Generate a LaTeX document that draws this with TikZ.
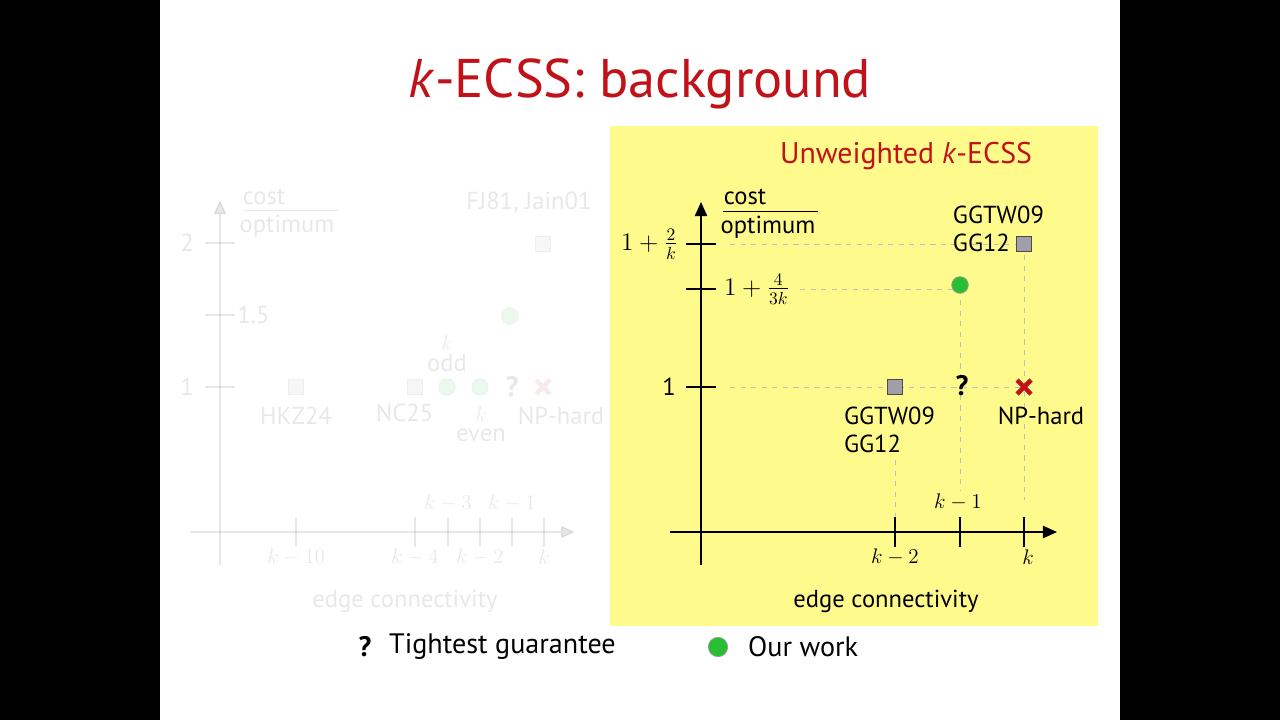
\documentclass[tikz,border=0pt]{standalone}
\usepackage{amsmath}
\usepackage{fontspec}
\setmainfont{PT Sans}
\usepackage{tikz}
\usetikzlibrary{arrows.meta,positioning,calc}
\definecolor{slidered}{RGB}{192,18,24}
\definecolor{boxyellow}{RGB}{255,250,140}
\definecolor{ourgreen}{RGB}{40,190,50}
\definecolor{sqgray}{RGB}{160,158,168}
\tikzset{
  axis/.style={thick,-{Triangle[length=8pt,width=7pt]}},
  tick/.style={thick},
  guide/.style={gray!50,dashed,thin},
  sqmark/.style={draw=black!70,fill=sqgray,minimum size=8.5pt,inner sep=0pt,thin},
  dotmark/.style={circle,draw=black!40,fill=ourgreen,minimum size=9.5pt,inner sep=0pt,thin},
  lbl/.style={font=\fontsize{14}{16}\selectfont,align=left,inner sep=1pt},
  mlbl/.style={font=\fontsize{12}{14}\selectfont,inner sep=1pt},
  qlbl/.style={font=\bfseries\fontsize{16}{18}\selectfont},
  faded/.style={opacity=0.09}
}
\newcommand{\hardmark}[1]{\draw[slidered,line width=2.6pt] ($(#1)+(-7,-7)$) -- ($(#1)+(7,7)$) ($(#1)+(-7,7)$) -- ($(#1)+(7,-7)$);}
\begin{document}
\begin{tikzpicture}[x=0.02cm,y=-0.02cm]
\useasboundingbox (0,0) rectangle (1280,720);
\fill[black] (0,0) rectangle (1280,720);
\fill[white] (160,0) rectangle (1120,720);

% title
\node[text=slidered,font=\fontsize{31}{36}\selectfont] (title) at (640,84) {\textit{k}-ECSS: background};

% faded left chart
\begin{scope}[faded]
  \draw[axis] (220,565) -- (220,200);
  \draw[axis] (190,532) -- (575,532);
  \foreach \y/\t in {243/2,387/1} {
    \draw[tick] (205,\y) -- (235,\y);
    \node[lbl,anchor=east] at (196,\y) {\t};
  }
  \draw[tick] (205,315) -- (235,315) node[lbl,anchor=west] {1.5};
  \foreach \x/\t in {296/{k-10},415/{k-4},480/{k-2},544/{k}} {
    \draw[tick] (\x,517) -- (\x,547);
    \node[mlbl] at (\x,557) {$\t$};
  }
  \foreach \x/\t in {448/{k-3},512/{k-1}} {
    \draw[tick] (\x,517) -- (\x,547);
    \node[mlbl] at (\x,503) {$\t$};
  }
  \node[lbl] (lcost) at (264,197) {cost};
  \draw (244,210) -- (338,210);
  \node[lbl] (lopt) at (287,226) {optimum};
  \node[sqmark] (lsqa) at (296,387) {};
  \node[lbl,below=6pt of lsqa] {HKZ24};
  \node[sqmark] (lsqb) at (415,387) {};
  \node[lbl,below=4pt of lsqb,xshift=-6pt] {NC25};
  \node[sqmark] (lsqc) at (543,244) {};
  \node[lbl,above=12pt of lsqc,xshift=-8pt] {FJ81, Jain01};
  \node[dotmark] (ldota) at (447,387) {};
  \node[dotmark] (ldotb) at (480,387) {};
  \node[dotmark] (ldotc) at (510,316) {};
  \node[mlbl,text=blue] (lkodd) at (447,343) {$k$};
  \node[lbl] (lodd) at (447,363) {odd};
  \node[mlbl,text=blue] (lkeven) at (481,414) {$k$};
  \node[lbl] (leven) at (481,435) {even};
  \node[qlbl] (lq) at (512,387) {?};
  \coordinate (lx) at (543,387);
  \hardmark{lx}
  \node[lbl] at (561,416) {NP-hard};
  \node[lbl] (lxl) at (405,601) {edge connectivity};
\end{scope}

% yellow box
\fill[boxyellow] (610,126) rectangle (1098,626);
\node[text=slidered,font=\fontsize{17}{20}\selectfont] (boxtitle) at (906,156) {Unweighted \textit{k}-ECSS};

% guides
\draw[guide] (730,244) -- (1024,244);
\draw[guide] (800,289) -- (960,289);
\draw[guide] (730,387) -- (1024,387);
\draw[guide] (895,460) -- (895,517);
\draw[guide] (960,300) -- (960,490);
\draw[guide] (1024,255) -- (1024,500);

% axes
\draw[axis] (701,565) -- (701,202);
\draw[axis] (670,532) -- (1057,532);
\foreach \y in {244,289,387} \draw[tick] (686,\y) -- (716,\y);
\foreach \x in {895,960,1024} \draw[tick] (\x,517) -- (\x,547);
\node[lbl,anchor=east] (ytwo) at (680,244) {$1+\frac{2}{k}$};
\node[lbl,anchor=west] (yfour) at (722,289) {$1+\frac{4}{3k}$};
\node[lbl,anchor=east] (yone) at (678,387) {1};
\node[mlbl] (xkm2) at (895,557) {$k-2$};
\node[mlbl] (xkm1) at (958,502) {$k-1$};
\node[mlbl] (xk) at (1028,557) {$k$};
\node[lbl] (cost) at (745,197) {cost};
\draw (723,211) -- (818,211);
\node[lbl] (opt) at (768,227) {optimum};

% points
\node[sqmark] (sqtop) at (1024,244) {};
\node[lbl,anchor=east] (reftop) at (1046,229) {GGTW09\\GG12};
\node[dotmark] (ours) at (960,285) {};
\node[sqmark] (sqlow) at (895,387) {};
\node[lbl,anchor=north west] (reflow) at (842,405) {GGTW09\\GG12};
\node[qlbl] (qmark) at (962,386) {?};
\coordinate (hard) at (1024,387);
\hardmark{hard}
\node[lbl] (hardl) at (1041,416) {NP-hard};
\node[lbl] (xlabel) at (886,601) {edge connectivity};

% legend
\node[qlbl] (legq) at (365,647) {?};
\node[font=\fontsize{16}{19}\selectfont,anchor=west] (legqt) at (383,647) {Tightest guarantee};
\node[dotmark,minimum size=11pt] (legdot) at (718,647) {};
\node[font=\fontsize{16}{19}\selectfont,anchor=west] (legdott) at (742,647) {Our work};
\end{tikzpicture}
\end{document}
